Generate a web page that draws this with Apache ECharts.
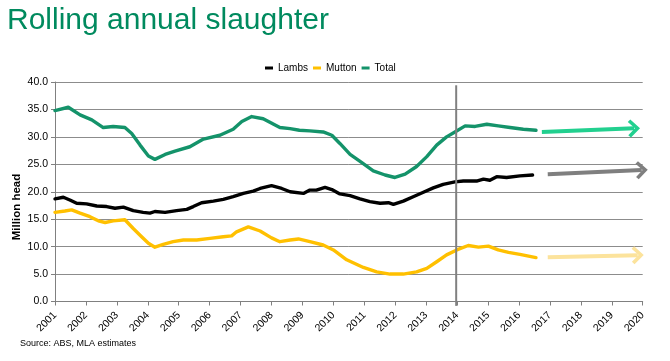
<!DOCTYPE html>
<html>
<head>
<meta charset="utf-8">
<script src="https://cdn.jsdelivr.net/npm/echarts@6/dist/echarts.min.js"></script>
<style>
html,body{margin:0;padding:0;background:#fff;}
#chart{width:670px;height:361px;}
</style>
</head>
<body>
<div id="chart"></div>
<script>
// ---- data ----
const yearTicks = [2001,2002,2003,2004,2005,2006,2007,2008,2009,2010,2011,2012,2013,2014,2015,2016,2017,2018,2019,2020];

const totalX = [2001.0, 2001.43, 2001.81, 2002.19, 2002.56, 2002.88, 2003.26, 2003.48, 2003.75, 2004.02, 2004.23, 2004.56, 2004.88, 2005.36, 2005.8, 2006.33, 2006.76, 2007.04, 2007.36, 2007.73, 2008.27, 2008.6, 2008.9, 2009.24, 2009.67, 2009.95, 2010.21, 2010.54, 2010.92, 2011.29, 2011.67, 2011.99, 2012.32, 2012.69, 2013.02, 2013.34, 2013.66, 2013.93, 2014.26, 2014.58, 2014.96, 2015.33, 2015.71, 2016.14, 2016.55];
const totalY = [34.8, 35.4, 34.0, 33.1, 31.7, 31.9, 31.7, 30.6, 28.5, 26.5, 25.9, 26.8, 27.4, 28.2, 29.6, 30.3, 31.4, 32.8, 33.7, 33.3, 31.7, 31.5, 31.2, 31.1, 30.9, 30.3, 28.8, 26.8, 25.3, 23.8, 23.05, 22.6, 23.2, 24.6, 26.4, 28.5, 30.0, 30.9, 32.0, 31.9, 32.3, 32.0, 31.7, 31.4, 31.2];

const lambsX = [2001.0, 2001.27, 2001.48, 2001.7, 2002.02, 2002.35, 2002.67, 2002.94, 2003.21, 2003.53, 2003.85, 2004.07, 2004.23, 2004.56, 2004.93, 2005.26, 2005.47, 2005.74, 2006.12, 2006.44, 2006.76, 2007.09, 2007.41, 2007.63, 2008.0, 2008.33, 2008.6, 2009.03, 2009.24, 2009.45, 2009.73, 2009.95, 2010.21, 2010.54, 2010.86, 2011.18, 2011.51, 2011.78, 2011.94, 2012.26, 2012.58, 2012.91, 2013.23, 2013.55, 2013.93, 2014.2, 2014.63, 2014.85, 2015.06, 2015.28, 2015.6, 2016.03, 2016.44];
const lambsY = [18.7, 19.0, 18.5, 17.9, 17.8, 17.4, 17.3, 17.0, 17.2, 16.55, 16.25, 16.1, 16.4, 16.25, 16.55, 16.8, 17.3, 18.0, 18.3, 18.6, 19.1, 19.7, 20.1, 20.6, 21.1, 20.6, 20.0, 19.7, 20.3, 20.3, 20.8, 20.4, 19.6, 19.3, 18.7, 18.2, 17.9, 18.0, 17.7, 18.3, 19.1, 19.9, 20.7, 21.35, 21.8, 21.95, 21.95, 22.3, 22.1, 22.75, 22.6, 22.9, 23.05];

const muttonX = [2001.0, 2001.32, 2001.54, 2001.81, 2002.13, 2002.4, 2002.62, 2002.88, 2003.26, 2003.53, 2003.8, 2004.02, 2004.23, 2004.5, 2004.82, 2005.15, 2005.58, 2006.01, 2006.44, 2006.71, 2006.87, 2007.25, 2007.63, 2008.0, 2008.27, 2008.6, 2008.87, 2009.24, 2009.67, 2010.0, 2010.43, 2010.97, 2011.4, 2011.83, 2012.26, 2012.69, 2013.02, 2013.34, 2013.66, 2013.99, 2014.36, 2014.69, 2015.01, 2015.33, 2015.66, 2016.03, 2016.55];
const muttonY = [16.25, 16.5, 16.7, 16.1, 15.45, 14.7, 14.4, 14.7, 14.9, 13.3, 11.8, 10.6, 9.9, 10.4, 10.9, 11.2, 11.2, 11.5, 11.8, 11.95, 12.7, 13.6, 12.85, 11.6, 10.9, 11.2, 11.4, 10.9, 10.3, 9.4, 7.6, 6.2, 5.4, 5.0, 5.0, 5.4, 6.05, 7.25, 8.5, 9.4, 10.2, 9.9, 10.1, 9.4, 8.95, 8.6, 8.0];

// divider at start of 2014 (x, yFrom, yTo)
const dividerYear = 2013.97;
const dividerRange = [-0.8, 39.4];

// trend arrows: [startYear, startValue, endYear, endValue]
const arrowTotal = [2016.74, 30.9, 2019.72, 31.55];
const arrowLambs = [2016.93, 23.2, 2019.97, 23.95];
const arrowMutton = [2016.93, 8.05, 2019.84, 8.45];

const seriesNames = ['Lambs', 'Mutton', 'Total'];
const yTickMin = 0, yTickMax = 40, yTickStep = 5;

// ---- build ----
function zip(xs, ys){ return xs.map((x,i)=>[x, ys[i]]); }
const FONT = 'Liberation Sans, Arial, sans-serif';
// open chevron pointing up
const chevron = 'path://M0,11 L11,0 L22,11 L19,14 L11,6 L3,14 Z';

function arrowLine(a){
  return [{coord:[a[0],a[1]], symbol:'none'}, {coord:[a[2],a[3]], symbol:chevron, symbolSize:[18,12]}];
}

const chart = echarts.init(document.getElementById('chart'), null, {renderer:'canvas'});
const lineStyleBase = {width:3.4, cap:'round', join:'round'};

function arrowSeries(name, arr, color){
  return {name:name, type:'line', data:[], clip:false, silent:true, z:6,
    markLine:{silent:true, animation:false, label:{show:false}, emphasis:{disabled:true},
      lineStyle:{color:color, width:4, type:'solid'},
      itemStyle:{color:color},
      data:[arrowLine(arr)]}};
}

chart.setOption({
  animation:false,
  backgroundColor:'#fff',
  title:{
    text:'Rolling annual slaughter', left:7, top:6, padding:0,
    textStyle:{fontFamily:FONT, fontSize:30, fontWeight:'normal', color:'#008A5E'}
  },
  legend:{
    data:seriesNames, left:265, top:63, padding:0, itemGap:5,
    itemWidth:8, itemHeight:3, icon:'rect',
    textStyle:{fontFamily:FONT, fontSize:10, color:'#000'}
  },
  grid:{left:55, right:27.3, top:82, bottom:59.5},
  xAxis:{
    type:'value', min:yearTicks[0], max:yearTicks[yearTicks.length-1], interval:1,
    axisLine:{show:true, lineStyle:{color:'#808080', width:1}},
    axisTick:{show:true, length:4, lineStyle:{color:'#808080'}},
    splitLine:{show:false},
    axisLabel:{rotate:45, fontFamily:FONT, fontSize:10.5, color:'#000', margin:12,
      formatter:(v)=> String(Math.round(v))}
  },
  yAxis:{
    type:'value', min:yTickMin, max:yTickMax, interval:yTickStep,
    axisLine:{show:true, lineStyle:{color:'#808080', width:1}},
    axisTick:{show:true, length:4, lineStyle:{color:'#808080'}},
    splitLine:{show:true, lineStyle:{color:'#8c8c8c', width:1}},
    axisLabel:{fontFamily:FONT, fontSize:10.5, color:'#000', margin:7,
      formatter:(v)=> v.toFixed(1)}
  },
  graphic:[
    {type:'text', x:17, y:207, rotation:Math.PI/2,
      style:{text:'Million head', font:'bold 11.5px '+FONT, fill:'#000', align:'center', verticalAlign:'middle'}},
    {type:'text', x:20, y:344,
      style:{text:'Source: ABS, MLA estimates', font:'9px '+FONT, fill:'#000', align:'left', verticalAlign:'middle'}}
  ],
  series:[
    {name:'Lambs', type:'line', data:zip(lambsX, lambsY), showSymbol:false, z:4,
      color:'#000000', lineStyle:Object.assign({color:'#000000'}, lineStyleBase)},
    {name:'Mutton', type:'line', data:zip(muttonX, muttonY), showSymbol:false, z:3,
      color:'#FFC000', lineStyle:Object.assign({color:'#FFC000'}, lineStyleBase)},
    {name:'Total', type:'line', data:zip(totalX, totalY), showSymbol:false, z:3,
      color:'#14936A', lineStyle:Object.assign({color:'#14936A'}, lineStyleBase)},
    {name:'divider', type:'line', data:[[dividerYear, dividerRange[0]],[dividerYear, dividerRange[1]]],
      showSymbol:false, clip:false, silent:true, z:5,
      lineStyle:{color:'#808080', width:2}},
    arrowSeries('arrowTotal', arrowTotal, '#22D08F'),
    arrowSeries('arrowLambs', arrowLambs, '#7F7F7F'),
    arrowSeries('arrowMutton', arrowMutton, '#FCE39C')
  ]
});
</script>
</body>
</html>
